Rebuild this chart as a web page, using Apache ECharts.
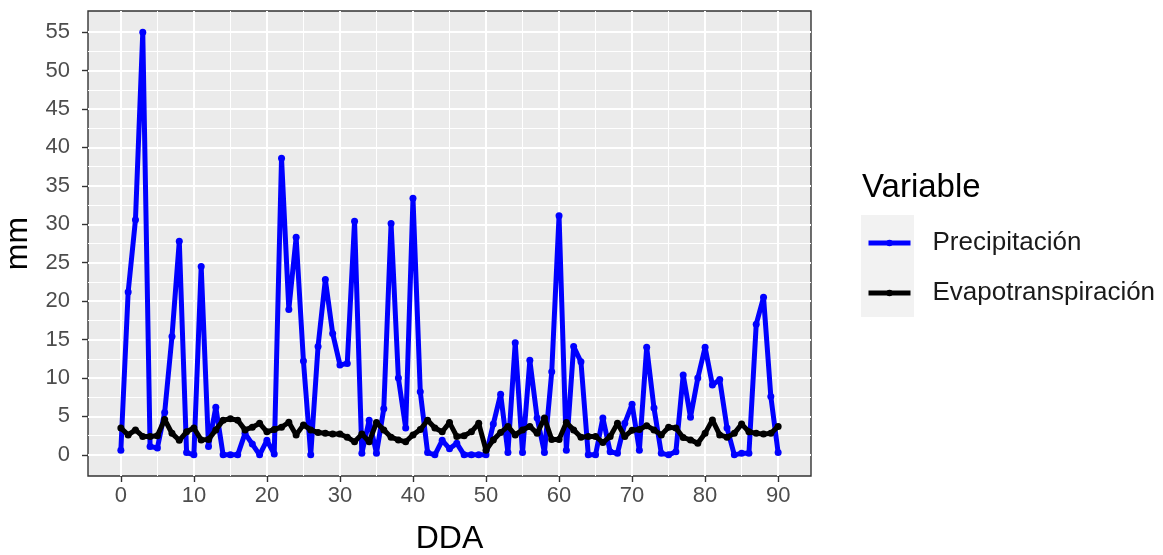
<!DOCTYPE html>
<html>
<head>
<meta charset="utf-8">
<script src="https://cdn.jsdelivr.net/npm/echarts@6/dist/echarts.min.js"></script>
<style>
  html, body { margin: 0; padding: 0; background: #fff; }
  #chart { width: 1163px; height: 555px; }
</style>
</head>
<body>
<div id="chart"></div>
<script>
// DDA (days after sowing)
const dda = [
  0, 1, 2, 3, 4, 5, 6, 7, 8, 9, 10, 11, 12, 13, 14, 15, 16, 17, 18, 19,
  20, 21, 22, 23, 24, 25, 26, 27, 28, 29, 30, 31, 32, 33, 34, 35, 36, 37, 38, 39,
  40, 41, 42, 43, 44, 45, 46, 47, 48, 49, 50, 51, 52, 53, 54, 55, 56, 57, 58, 59,
  60, 61, 62, 63, 64, 65, 66, 67, 68, 69, 70, 71, 72, 73, 74, 75, 76, 77, 78, 79,
  80, 81, 82, 83, 84, 85, 86, 87, 88, 89, 90
]

// Precipitación (mm)
const precipitacion = [
  0.6, 21.2, 30.6, 55, 1.1, 0.9, 5.5, 15.4, 27.8, 0.3,
  0, 24.5, 1.1, 6.2, 0, 0, 0, 2.8, 1.4, 0,
  1.9, 0.1, 38.6, 18.9, 28.3, 12.2, 0, 14.1, 22.8, 15.8,
  11.7, 11.9, 30.4, 0.2, 4.5, 0.2, 6, 30.1, 10, 3.5,
  33.4, 8.2, 0.3, 0, 1.9, 0.8, 1.5, 0, 0, 0,
  0, 4, 7.9, 0.3, 14.6, 0.3, 12.3, 4.8, 0.3, 10.8,
  31.1, 0.6, 14.1, 12.1, 0, 0, 4.8, 0.4, 0.2, 4.1,
  6.6, 0.6, 14, 6.1, 0.2, 0, 0.4, 10.4, 4.9, 10,
  14, 9.1, 9.8, 3.5, 0, 0.2, 0.2, 17, 20.5, 7.6,
  0.3
]

// Evapotranspiración (mm)
const evapotranspiracion = [
  3.5, 2.6, 3.25, 2.4, 2.4, 2.5, 4.6, 2.8, 1.9, 3.0,
  3.5, 1.95, 2.0, 3.25, 4.5, 4.7, 4.5, 3.25, 3.6, 4.1,
  3.0, 3.3, 3.6, 4.25, 2.6, 3.9, 3.25, 2.9, 2.8, 2.7,
  2.7, 2.3, 1.7, 2.7, 1.7, 4.2, 3.25, 2.3, 1.95, 1.7,
  2.6, 3.3, 4.5, 3.5, 3.0, 4.2, 2.4, 2.5, 3.0, 4.1,
  0.6, 1.95, 2.9, 3.7, 2.6, 3.25, 3.7, 2.8, 4.8, 2.0,
  2.0, 4.2, 3.25, 2.3, 2.4, 2.4, 1.6, 2.4, 4.1, 2.4,
  3.2, 3.3, 3.8, 3.25, 2.6, 3.6, 3.5, 2.25, 1.95, 1.5,
  2.8, 4.55, 2.6, 2.3, 2.8, 4.0, 3.0, 2.8, 2.7, 2.8,
  3.7
]

// Tick labels
const xTicks = [0, 10, 20, 30, 40, 50, 60, 70, 80, 90]
const xMinor = [5, 15, 25, 35, 45, 55, 65, 75, 85]
const yTicks = [0, 5, 10, 15, 20, 25, 30, 35, 40, 45, 50, 55]
const yMinor = [2.5, 7.5, 12.5, 17.5, 22.5, 27.5, 32.5, 37.5, 42.5, 47.5, 52.5]

const FONT = 'Liberation Sans, Arial, sans-serif'
const chart = echarts.init(document.getElementById('chart'), null, { renderer: 'canvas' })

const toPairs = (ys) => dda.map((d, i) => [d, ys[i]])

// second axis on each side only draws the thin minor grid lines
const hiddenAxis = {
  axisLine: { show: false, onZero: false },
  axisLabel: { show: false },
}

chart.setOption({
  backgroundColor: '#ffffff',
  animation: false,
  textStyle: { fontFamily: FONT },
  title: {
    text: 'Variable',
    left: 857,
    top: 166,
    textStyle: { fontFamily: FONT, fontSize: 33, fontWeight: 'normal', color: '#000' },
  },
  graphic: [
    {
      type: 'rect',
      z: 0,
      shape: { x: 861, y: 215, width: 53, height: 102 },
      style: { fill: '#F2F2F2' },
    },
  ],
  legend: {
    orient: 'vertical',
    left: 866,
    top: 230,
    padding: 0,
    itemWidth: 42,
    itemHeight: 8,
    itemGap: 24,
    data: ['Precipitación', 'Evapotranspiración'],
    lineStyle: { width: 5 },
    textStyle: { fontFamily: FONT, fontSize: 26, color: '#1a1a1a', padding: [0, 0, 0, 17] },
  },
  grid: {
    left: 88,
    right: 352,
    top: 11,
    bottom: 79,
    show: true,
    backgroundColor: '#EBEBEB',
    borderColor: '#333333',
    borderWidth: 1.4,
    outerBoundsMode: 'none',
  },
  xAxis: [
    {
      type: 'value',
      min: -4.5,
      max: 94.5,
      name: 'DDA',
      nameLocation: 'middle',
      nameGap: 47,
      nameTextStyle: { fontFamily: FONT, fontSize: 32, color: '#000' },
      axisLine: { show: false, onZero: false },
      axisTick: { show: true, length: 6, customValues: xTicks, lineStyle: { color: '#333', width: 1.4 } },
      axisLabel: { customValues: xTicks, margin: 9, fontFamily: FONT, fontSize: 22, color: '#4D4D4D' },
      splitLine: { show: true, lineStyle: { color: '#ffffff', width: 2 } },
    },
    Object.assign({
      type: 'value',
      min: -4.5,
      max: 94.5,
      position: 'top',
      axisTick: { show: false, customValues: xMinor },
      splitLine: { show: true, lineStyle: { color: '#ffffff', width: 1 } },
    }, hiddenAxis),
  ],
  yAxis: [
    {
      type: 'value',
      min: -2.75,
      max: 57.75,
      name: 'mm',
      nameLocation: 'middle',
      nameGap: 52,
      nameTextStyle: { fontFamily: FONT, fontSize: 32, color: '#000' },
      axisLine: { show: false, onZero: false },
      axisTick: { show: true, length: 6, customValues: yTicks, lineStyle: { color: '#333', width: 1.4 } },
      axisLabel: { customValues: yTicks, margin: 18, fontFamily: FONT, fontSize: 22, color: '#4D4D4D' },
      splitLine: { show: true, lineStyle: { color: '#ffffff', width: 2 } },
    },
    Object.assign({
      type: 'value',
      min: -2.75,
      max: 57.75,
      position: 'right',
      axisTick: { show: false, customValues: yMinor },
      splitLine: { show: true, lineStyle: { color: '#ffffff', width: 1 } },
    }, hiddenAxis),
  ],
  series: [
    {
      name: 'Precipitación',
      type: 'line',
      data: toPairs(precipitacion),
      symbol: 'circle',
      symbolSize: 7,
      showSymbol: true,
      lineStyle: { color: '#0000FF', width: 5 },
      itemStyle: { color: '#0000FF' },
      z: 3,
    },
    {
      name: 'Evapotranspiración',
      type: 'line',
      data: toPairs(evapotranspiracion),
      symbol: 'circle',
      symbolSize: 7,
      showSymbol: true,
      lineStyle: { color: '#000000', width: 5 },
      itemStyle: { color: '#000000' },
      z: 4,
    },
  ],
})
</script>
</body>
</html>
